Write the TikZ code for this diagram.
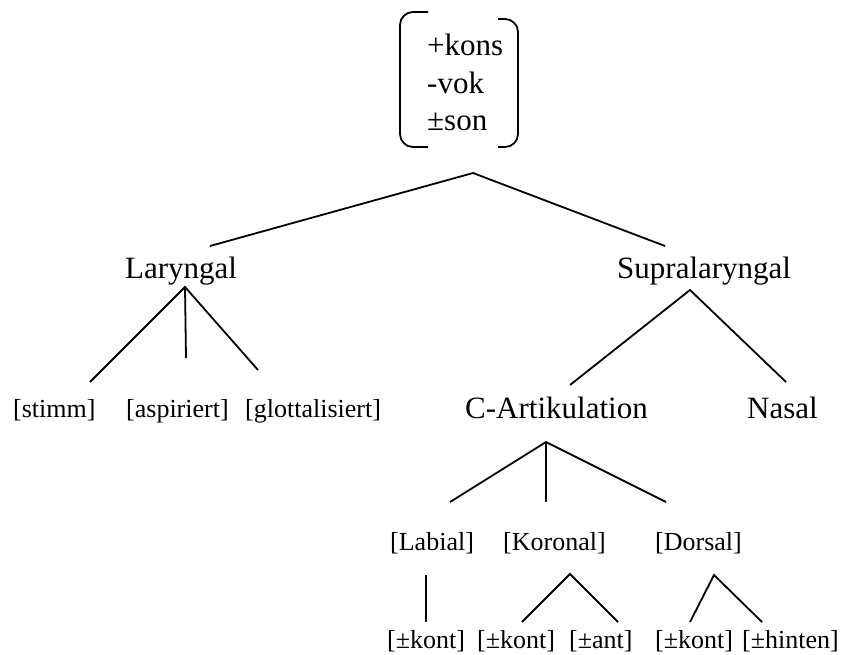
\documentclass[tikz,border=0pt]{standalone}
\usepackage{fontspec}
\setmainfont{Liberation Serif}
\begin{document}
\begin{tikzpicture}[x=1pt,y=-1pt,
  big/.style={font=\fontsize{31}{37}\selectfont, inner sep=0pt, anchor=base west},
  small/.style={font=\fontsize{26}{31}\selectfont, inner sep=0pt, anchor=base west},
  branch/.style={line width=1.8pt},
  bracket/.style={line width=1.8pt, rounded corners=13pt}]
\useasboundingbox (0,0) rectangle (841,654);

% feature matrix at the root
\node[big] (f1) at (427,55) {+kons};
\node[big] (f2) at (427,93) {-vok};
\node[big] (f3) at (427,130) {±son};
\coordinate (lbt) at (428,12);
\coordinate (lbb) at (428,147);
\coordinate (rbt) at (498,19);
\coordinate (rbb) at (498,147);
\draw[bracket] (lbt) -- (400,12) -- (400,147) -- (lbb);
\draw[bracket] (rbt) -- (518,19) -- (518,147) -- (rbb);

% second level
\node[big] (lar) at (125,278) {Laryngal};
\node[big] (sup) at (617,278) {Supralaryngal};
\coordinate (root) at (473,173);
\coordinate (lar-in) at (210,246);
\coordinate (sup-in) at (665,246);
\draw[branch] (lar-in) -- (root) -- (sup-in);

% laryngeal features
\node[small] (stimm) at (13,417) {[stimm]};
\node[small] (asp) at (126,417) {[aspiriert]};
\node[small] (glott) at (245,417) {[glottalisiert]};
\coordinate (lar-out) at (185,287);
\coordinate (stimm-in) at (90,382);
\coordinate (asp-in) at (186,358);
\coordinate (glott-in) at (258,370);
\draw[branch] (stimm-in) -- (lar-out) -- (glott-in);
\draw[branch] (lar-out) -- (asp-in);

% supralaryngeal branches
\node[big] (cart) at (465,418) {C-Artikulation};
\node[big] (nasal) at (747,418) {Nasal};
\coordinate (sup-out) at (690,290);
\coordinate (cart-in) at (570,385);
\coordinate (nasal-in) at (786,382);
\draw[branch] (cart-in) -- (sup-out) -- (nasal-in);

% places of articulation
\node[small] (lab) at (390,550) {[Labial]};
\node[small] (kor) at (503,550) {[Koronal]};
\node[small] (dor) at (655,550) {[Dorsal]};
\coordinate (cart-out) at (546,442);
\coordinate (lab-in) at (450,502);
\coordinate (kor-in) at (546,502);
\coordinate (dor-in) at (666,502);
\draw[branch] (lab-in) -- (cart-out) -- (dor-in);
\draw[branch] (cart-out) -- (kor-in);

% dependent features
\node[small] (k1) at (387,648) {[±kont]};
\node[small] (k2) at (477,648) {[±kont]};
\node[small] (ant) at (569,648) {[±ant]};
\node[small] (k3) at (655,648) {[±kont]};
\node[small] (hint) at (742,648) {[±hinten]};
\coordinate (lab-out) at (426,575);
\coordinate (k1-in) at (426,622);
\coordinate (kor-out) at (570,574);
\coordinate (k2-in) at (522,622);
\coordinate (ant-in) at (618,622);
\coordinate (dor-out) at (714,575);
\coordinate (k3-in) at (690,622);
\coordinate (hint-in) at (762,622);
\draw[branch] (lab-out) -- (k1-in);
\draw[branch] (k2-in) -- (kor-out) -- (ant-in);
\draw[branch] (k3-in) -- (dor-out) -- (hint-in);
\end{tikzpicture}
\end{document}
